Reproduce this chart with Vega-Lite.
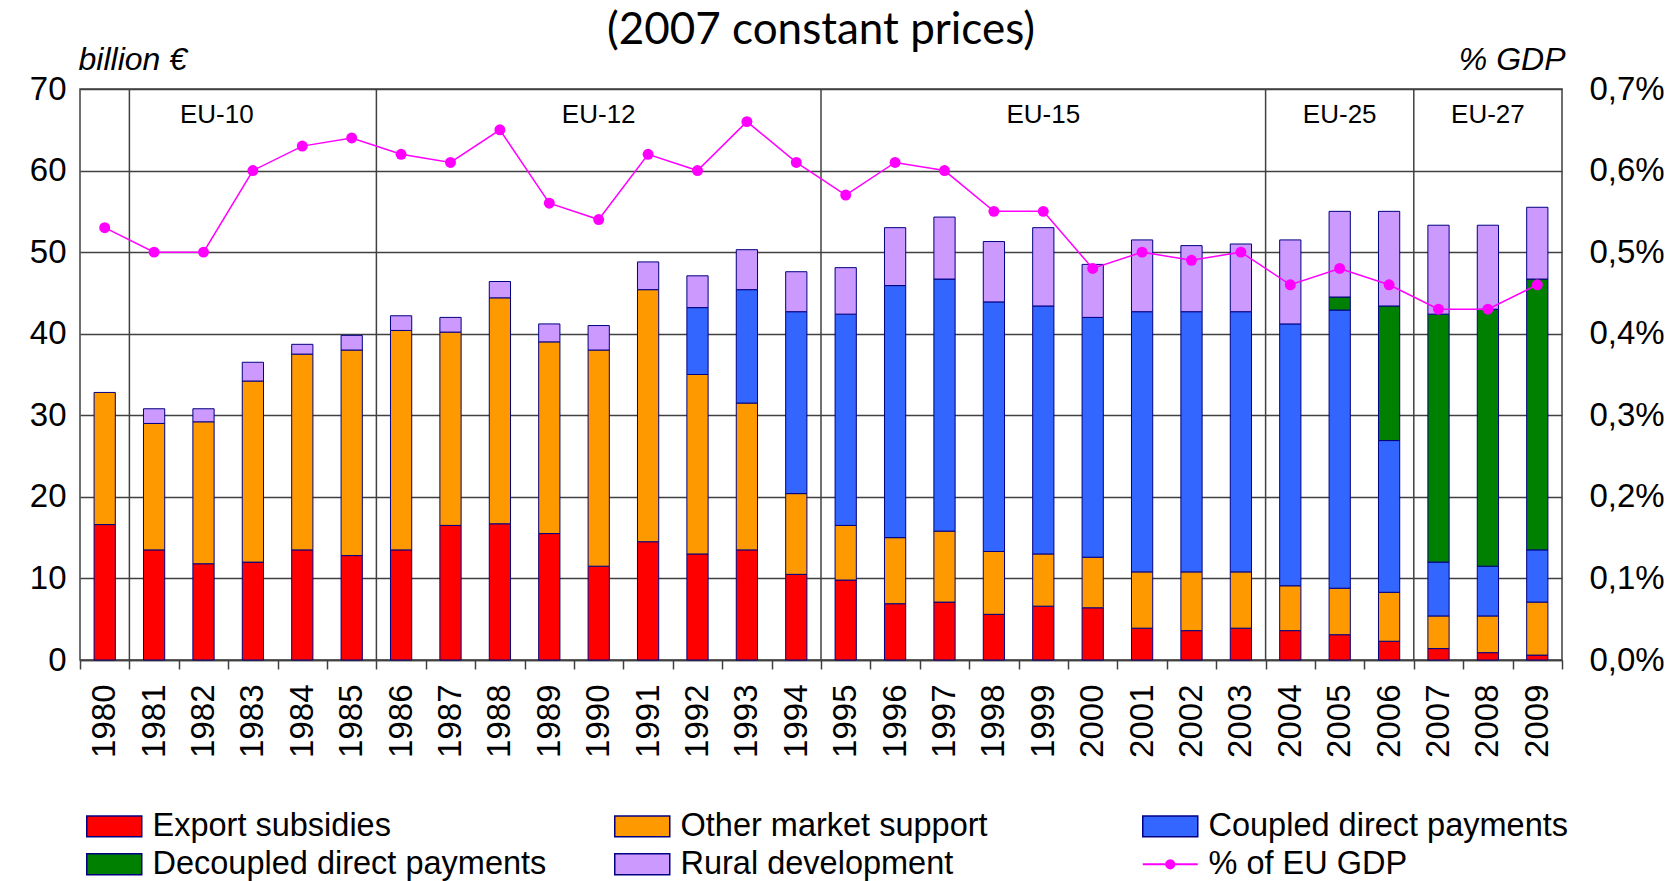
{
  "$schema": "https://vega.github.io/schema/vega-lite/v6.json",
  "width": 1482,
  "height": 571,
  "autosize": {"type": "none"},
  "padding": {"left": 80, "top": 89, "right": 113, "bottom": 221},
  "background": "white",
  "title": {"text": "(2007 constant prices)", "font": "Lato", "fontSize": 44, "fontWeight": "normal", "color": "black", "anchor": "middle", "frame": "group", "offset": -10},
  "config": {
    "locale": {"number": {"decimal": ",", "thousands": ".", "grouping": [3], "currency": ["", " €"]}},
    "view": {"stroke": "#404040", "strokeWidth": 1.5},
    "axis": {"labelFont": "Liberation Sans", "labelFontSize": 33, "labelColor": "black", "titleFont": "Liberation Sans", "titleColor": "black"}
  },
  "datasets": {
    "bars": [
      {"year":"1980","c":"Export subsidies","v":16.6,"k":1},{"year":"1980","c":"Other market support","v":16.2,"k":2},
      {"year":"1981","c":"Export subsidies","v":13.5,"k":1},{"year":"1981","c":"Other market support","v":15.5,"k":2},{"year":"1981","c":"Rural development","v":1.8,"k":5},
      {"year":"1982","c":"Export subsidies","v":11.8,"k":1},{"year":"1982","c":"Other market support","v":17.4,"k":2},{"year":"1982","c":"Rural development","v":1.6,"k":5},
      {"year":"1983","c":"Export subsidies","v":12.0,"k":1},{"year":"1983","c":"Other market support","v":22.2,"k":2},{"year":"1983","c":"Rural development","v":2.3,"k":5},
      {"year":"1984","c":"Export subsidies","v":13.5,"k":1},{"year":"1984","c":"Other market support","v":24.0,"k":2},{"year":"1984","c":"Rural development","v":1.2,"k":5},
      {"year":"1985","c":"Export subsidies","v":12.8,"k":1},{"year":"1985","c":"Other market support","v":25.2,"k":2},{"year":"1985","c":"Rural development","v":1.8,"k":5},
      {"year":"1986","c":"Export subsidies","v":13.5,"k":1},{"year":"1986","c":"Other market support","v":26.9,"k":2},{"year":"1986","c":"Rural development","v":1.8,"k":5},
      {"year":"1987","c":"Export subsidies","v":16.5,"k":1},{"year":"1987","c":"Other market support","v":23.7,"k":2},{"year":"1987","c":"Rural development","v":1.8,"k":5},
      {"year":"1988","c":"Export subsidies","v":16.7,"k":1},{"year":"1988","c":"Other market support","v":27.7,"k":2},{"year":"1988","c":"Rural development","v":2.0,"k":5},
      {"year":"1989","c":"Export subsidies","v":15.5,"k":1},{"year":"1989","c":"Other market support","v":23.5,"k":2},{"year":"1989","c":"Rural development","v":2.2,"k":5},
      {"year":"1990","c":"Export subsidies","v":11.5,"k":1},{"year":"1990","c":"Other market support","v":26.5,"k":2},{"year":"1990","c":"Rural development","v":3.0,"k":5},
      {"year":"1991","c":"Export subsidies","v":14.5,"k":1},{"year":"1991","c":"Other market support","v":30.9,"k":2},{"year":"1991","c":"Rural development","v":3.4,"k":5},
      {"year":"1992","c":"Export subsidies","v":13.0,"k":1},{"year":"1992","c":"Other market support","v":22.0,"k":2},{"year":"1992","c":"Coupled direct payments","v":8.2,"k":3},{"year":"1992","c":"Rural development","v":3.9,"k":5},
      {"year":"1993","c":"Export subsidies","v":13.5,"k":1},{"year":"1993","c":"Other market support","v":18.0,"k":2},{"year":"1993","c":"Coupled direct payments","v":13.9,"k":3},{"year":"1993","c":"Rural development","v":4.9,"k":5},
      {"year":"1994","c":"Export subsidies","v":10.5,"k":1},{"year":"1994","c":"Other market support","v":9.9,"k":2},{"year":"1994","c":"Coupled direct payments","v":22.3,"k":3},{"year":"1994","c":"Rural development","v":4.9,"k":5},
      {"year":"1995","c":"Export subsidies","v":9.8,"k":1},{"year":"1995","c":"Other market support","v":6.7,"k":2},{"year":"1995","c":"Coupled direct payments","v":25.9,"k":3},{"year":"1995","c":"Rural development","v":5.7,"k":5},
      {"year":"1996","c":"Export subsidies","v":6.9,"k":1},{"year":"1996","c":"Other market support","v":8.1,"k":2},{"year":"1996","c":"Coupled direct payments","v":30.9,"k":3},{"year":"1996","c":"Rural development","v":7.1,"k":5},
      {"year":"1997","c":"Export subsidies","v":7.1,"k":1},{"year":"1997","c":"Other market support","v":8.7,"k":2},{"year":"1997","c":"Coupled direct payments","v":30.9,"k":3},{"year":"1997","c":"Rural development","v":7.6,"k":5},
      {"year":"1998","c":"Export subsidies","v":5.6,"k":1},{"year":"1998","c":"Other market support","v":7.7,"k":2},{"year":"1998","c":"Coupled direct payments","v":30.6,"k":3},{"year":"1998","c":"Rural development","v":7.4,"k":5},
      {"year":"1999","c":"Export subsidies","v":6.6,"k":1},{"year":"1999","c":"Other market support","v":6.4,"k":2},{"year":"1999","c":"Coupled direct payments","v":30.4,"k":3},{"year":"1999","c":"Rural development","v":9.6,"k":5},
      {"year":"2000","c":"Export subsidies","v":6.4,"k":1},{"year":"2000","c":"Other market support","v":6.2,"k":2},{"year":"2000","c":"Coupled direct payments","v":29.4,"k":3},{"year":"2000","c":"Rural development","v":6.5,"k":5},
      {"year":"2001","c":"Export subsidies","v":3.9,"k":1},{"year":"2001","c":"Other market support","v":6.9,"k":2},{"year":"2001","c":"Coupled direct payments","v":31.9,"k":3},{"year":"2001","c":"Rural development","v":8.8,"k":5},
      {"year":"2002","c":"Export subsidies","v":3.6,"k":1},{"year":"2002","c":"Other market support","v":7.2,"k":2},{"year":"2002","c":"Coupled direct payments","v":31.9,"k":3},{"year":"2002","c":"Rural development","v":8.1,"k":5},
      {"year":"2003","c":"Export subsidies","v":3.9,"k":1},{"year":"2003","c":"Other market support","v":6.9,"k":2},{"year":"2003","c":"Coupled direct payments","v":31.9,"k":3},{"year":"2003","c":"Rural development","v":8.3,"k":5},
      {"year":"2004","c":"Export subsidies","v":3.6,"k":1},{"year":"2004","c":"Other market support","v":5.5,"k":2},{"year":"2004","c":"Coupled direct payments","v":32.1,"k":3},{"year":"2004","c":"Rural development","v":10.3,"k":5},
      {"year":"2005","c":"Export subsidies","v":3.1,"k":1},{"year":"2005","c":"Other market support","v":5.7,"k":2},{"year":"2005","c":"Coupled direct payments","v":34.1,"k":3},{"year":"2005","c":"Decoupled direct payments","v":1.6,"k":4},{"year":"2005","c":"Rural development","v":10.5,"k":5},
      {"year":"2006","c":"Export subsidies","v":2.3,"k":1},{"year":"2006","c":"Other market support","v":6.0,"k":2},{"year":"2006","c":"Coupled direct payments","v":18.6,"k":3},{"year":"2006","c":"Decoupled direct payments","v":16.5,"k":4},{"year":"2006","c":"Rural development","v":11.6,"k":5},
      {"year":"2007","c":"Export subsidies","v":1.4,"k":1},{"year":"2007","c":"Other market support","v":4.0,"k":2},{"year":"2007","c":"Coupled direct payments","v":6.6,"k":3},{"year":"2007","c":"Decoupled direct payments","v":30.4,"k":4},{"year":"2007","c":"Rural development","v":10.9,"k":5},
      {"year":"2008","c":"Export subsidies","v":0.9,"k":1},{"year":"2008","c":"Other market support","v":4.5,"k":2},{"year":"2008","c":"Coupled direct payments","v":6.1,"k":3},{"year":"2008","c":"Decoupled direct payments","v":31.5,"k":4},{"year":"2008","c":"Rural development","v":10.3,"k":5},
      {"year":"2009","c":"Export subsidies","v":0.6,"k":1},{"year":"2009","c":"Other market support","v":6.5,"k":2},{"year":"2009","c":"Coupled direct payments","v":6.4,"k":3},{"year":"2009","c":"Decoupled direct payments","v":33.2,"k":4},{"year":"2009","c":"Rural development","v":8.8,"k":5}
    ],
    "gdp": [
      {"year":"1980","pct":0.0053},{"year":"1981","pct":0.0050},{"year":"1982","pct":0.0050},{"year":"1983","pct":0.0060},{"year":"1984","pct":0.0063},
      {"year":"1985","pct":0.0064},{"year":"1986","pct":0.0062},{"year":"1987","pct":0.0061},{"year":"1988","pct":0.0065},{"year":"1989","pct":0.0056},
      {"year":"1990","pct":0.0054},{"year":"1991","pct":0.0062},{"year":"1992","pct":0.0060},{"year":"1993","pct":0.0066},{"year":"1994","pct":0.0061},
      {"year":"1995","pct":0.0057},{"year":"1996","pct":0.0061},{"year":"1997","pct":0.0060},{"year":"1998","pct":0.0055},{"year":"1999","pct":0.0055},
      {"year":"2000","pct":0.0048},{"year":"2001","pct":0.0050},{"year":"2002","pct":0.0049},{"year":"2003","pct":0.0050},{"year":"2004","pct":0.0046},
      {"year":"2005","pct":0.0048},{"year":"2006","pct":0.0046},{"year":"2007","pct":0.0043},{"year":"2008","pct":0.0043},{"year":"2009","pct":0.0046}
    ],
    "seps": [{"year":"1981"},{"year":"1986"},{"year":"1995"},{"year":"2004"},{"year":"2007"}],
    "groups": [{"label":"EU-12","year":"1990","ly":66.8},{"label":"EU-15","year":"1999","ly":66.8},{"label":"EU-25","year":"2005","ly":66.8},{"label":"EU-27","year":"2008","ly":66.8}],
    "group10": [{"label":"EU-10","year":"1982","ly":66.8}]
  },
  "layer": [
    {
      "layer": [
        {
          "data": {"name": "bars"},
          "mark": {"type": "bar", "width": {"band": 0.43}, "stroke": "#000080", "strokeWidth": 1},
          "encoding": {
            "x": {"field": "year", "type": "ordinal", "scale": {"paddingInner": 0, "paddingOuter": 0},
                  "axis": {"title": null, "labelAngle": -90, "tickBand": "extent", "tickSize": 9, "tickColor": "#404040", "tickWidth": 1.5, "domainColor": "#404040", "domainWidth": 1.5, "labelPadding": 15}},
            "y": {"field": "v", "type": "quantitative", "stack": "zero", "scale": {"domain": [0, 70]},
                  "axis": {"values": [0,10,20,30,40,50,60,70], "grid": true, "gridColor": "#404040", "gridWidth": 1.5, "domain": false, "ticks": false, "labelPadding": 14,
                           "title": "billion €", "titleFontStyle": "italic", "titleFontWeight": "normal", "titleFontSize": 32, "titleAngle": 0, "titleAlign": "left", "titleBaseline": "alphabetic", "titleX": -2, "titleY": -20}},
            "color": {"field": "c", "type": "nominal",
                      "scale": {"domain": ["Export subsidies","Other market support","Coupled direct payments","Decoupled direct payments","Rural development","% of EU GDP"],
                                "range": ["#FF0000","#FF9900","#3366FF","#008000","#CC99FF","#FF00FF"]},
                      "legend": {"orient": "none", "legendX": 18, "legendY": 721, "direction": "horizontal", "columns": 3, "gridAlign": "all", "title": null,
                                 "symbolType": "M-1,-0.38H1V0.38H-1Z", "symbolSize": 3025, "symbolStrokeWidth": 1.5, "symbolStrokeColor": "#000080",
                                 "labelFont": "Liberation Sans", "labelFontSize": 32.5, "labelColor": "black", "labelLimit": 0, "labelOffset": 22,
                                 "columnPadding": 63, "rowPadding": 5, "padding": 0,
                                 "encode": {"symbols": {"update": {
                                   "shape": {"signal": "datum.value === '% of EU GDP' ? 'M-1,0H1M-0.15,0A0.15,0.15 0 1,0 0.15,0A0.15,0.15 0 1,0 -0.15,0Z' : 'M-1,-0.38H1V0.38H-1Z'"},
                                   "stroke": {"signal": "datum.value === '% of EU GDP' ? '#FF00FF' : '#000080'"},
                                   "strokeWidth": {"signal": "datum.value === '% of EU GDP' ? 2 : 1.5"}}}}}},
            "order": {"field": "k", "type": "quantitative", "sort": "ascending"}
          }
        },
        {
          "data": {"name": "seps"},
          "mark": {"type": "rule", "color": "#404040", "strokeWidth": 1.5},
          "encoding": {"x": {"field": "year", "type": "ordinal", "bandPosition": 0}}
        },
        {
          "data": {"name": "groups"},
          "mark": {"type": "text", "font": "Liberation Sans", "fontSize": 26, "color": "black", "baseline": "middle", "align": "center"},
          "encoding": {"x": {"field": "year", "type": "ordinal", "bandPosition": 0.5}, "y": {"field": "ly", "type": "quantitative"}, "text": {"field": "label"}}
        },
        {
          "data": {"name": "group10"},
          "mark": {"type": "text", "font": "Liberation Sans", "fontSize": 26, "color": "black", "baseline": "middle", "align": "center"},
          "encoding": {"x": {"field": "year", "type": "ordinal", "bandPosition": 0.77}, "y": {"field": "ly", "type": "quantitative"}, "text": {"field": "label"}}
        }
      ]
    },
    {
      "data": {"name": "gdp"},
      "mark": {"type": "line", "color": "#FF00FF", "strokeWidth": 1.5, "point": {"filled": true, "size": 120, "color": "#FF00FF"}},
      "encoding": {
        "x": {"field": "year", "type": "ordinal"},
        "y": {"field": "pct", "type": "quantitative", "scale": {"domain": [0, 0.007]},
              "axis": {"orient": "right", "values": [0,0.001,0.002,0.003,0.004,0.005,0.006,0.007], "format": ".1%", "grid": false, "domain": false, "ticks": false, "labelPadding": 27,
                       "title": "% GDP", "titleFontStyle": "italic", "titleFontWeight": "normal", "titleFontSize": 32, "titleAngle": 0, "titleAlign": "right", "titleBaseline": "alphabetic", "titleX": 3, "titleY": -20}}
      }
    }
  ],
  "resolve": {"scale": {"y": "independent"}}
}
